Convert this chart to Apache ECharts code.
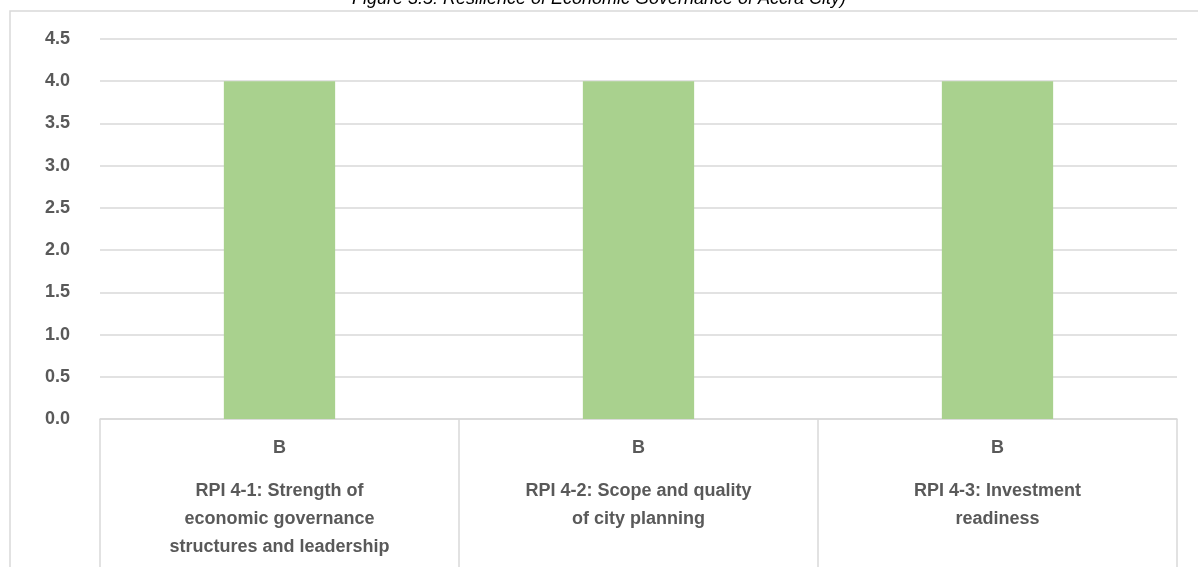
<!DOCTYPE html>
<html>
<head>
<meta charset="utf-8">
<script src="https://cdn.jsdelivr.net/npm/echarts@6/dist/echarts.min.js"></script>
<style>
    html, body { margin: 0; padding: 0; background: #fff; }
    #chart { width: 1198px; height: 567px; }
</style>
</head>
<body>
<div id="chart"></div>
<script>
// data
const categories = [
    'RPI 4-1: Strength of\neconomic governance\nstructures and leadership',
    'RPI 4-2: Scope and quality\nof city planning',
    'RPI 4-3: Investment\nreadiness'
];
const grades = ['B', 'B', 'B'];
const scores = [4, 4, 4];
const titleText = 'Figure 3.5: Resilience of Economic Governance of Accra City)';

const myChart = echarts.init(document.getElementById('chart'));
const labelFont = 'Liberation Sans';

myChart.setOption({
    animation: false,
    title: {
        text: titleText, left: 'center', top: -15,
        textStyle: { fontSize: 18, fontStyle: 'italic', fontWeight: 'normal', color: '#000', fontFamily: labelFont }
    },
    graphic: [{
        type: 'rect', silent: true,
        shape: { x: 10, y: 11, width: 1220, height: 600 },
        style: { fill: 'none', stroke: '#d9d9d9', lineWidth: 1.5 }
    }],
    grid: { left: 100, right: 21, top: 39, bottom: 148 },
    xAxis: [{
        type: 'category',
        data: categories,
        axisLine: { lineStyle: { color: '#d9d9d9', width: 1.5 } },
        axisTick: { show: true, length: 148, lineStyle: { color: '#d9d9d9', width: 1.5 } },
        axisLabel: {
            interval: 0,
            margin: 0,
            formatter: (v, i) => `{g|${ grades[i] }}\n{t|${ v.split('\n').join('}\n{t|') }}`,
            rich: {
                g: { fontSize: 18, fontWeight: 'bold', color: '#595959', fontFamily: labelFont, lineHeight: 58 },
                t: { fontSize: 18, fontWeight: 'bold', color: '#595959', fontFamily: labelFont, lineHeight: 28 }
            }
        }
    }],
    yAxis: [{
        type: 'value', min: 0, max: 4.5, interval: 0.5,
        axisLine: { show: false },
        axisTick: { show: false },
        splitLine: { lineStyle: { color: '#d9d9d9', width: 1.5 } },
        axisLabel: {
            margin: 30, fontSize: 18, fontWeight: 'bold', color: '#595959', fontFamily: labelFont,
            formatter: v => v.toFixed(1)
        }
    }],
    series: [{
        type: 'bar',
        data: scores,
        barWidth: '31%',
        itemStyle: { color: '#a9d18e' }
    }]
});
</script>
</body>
</html>
